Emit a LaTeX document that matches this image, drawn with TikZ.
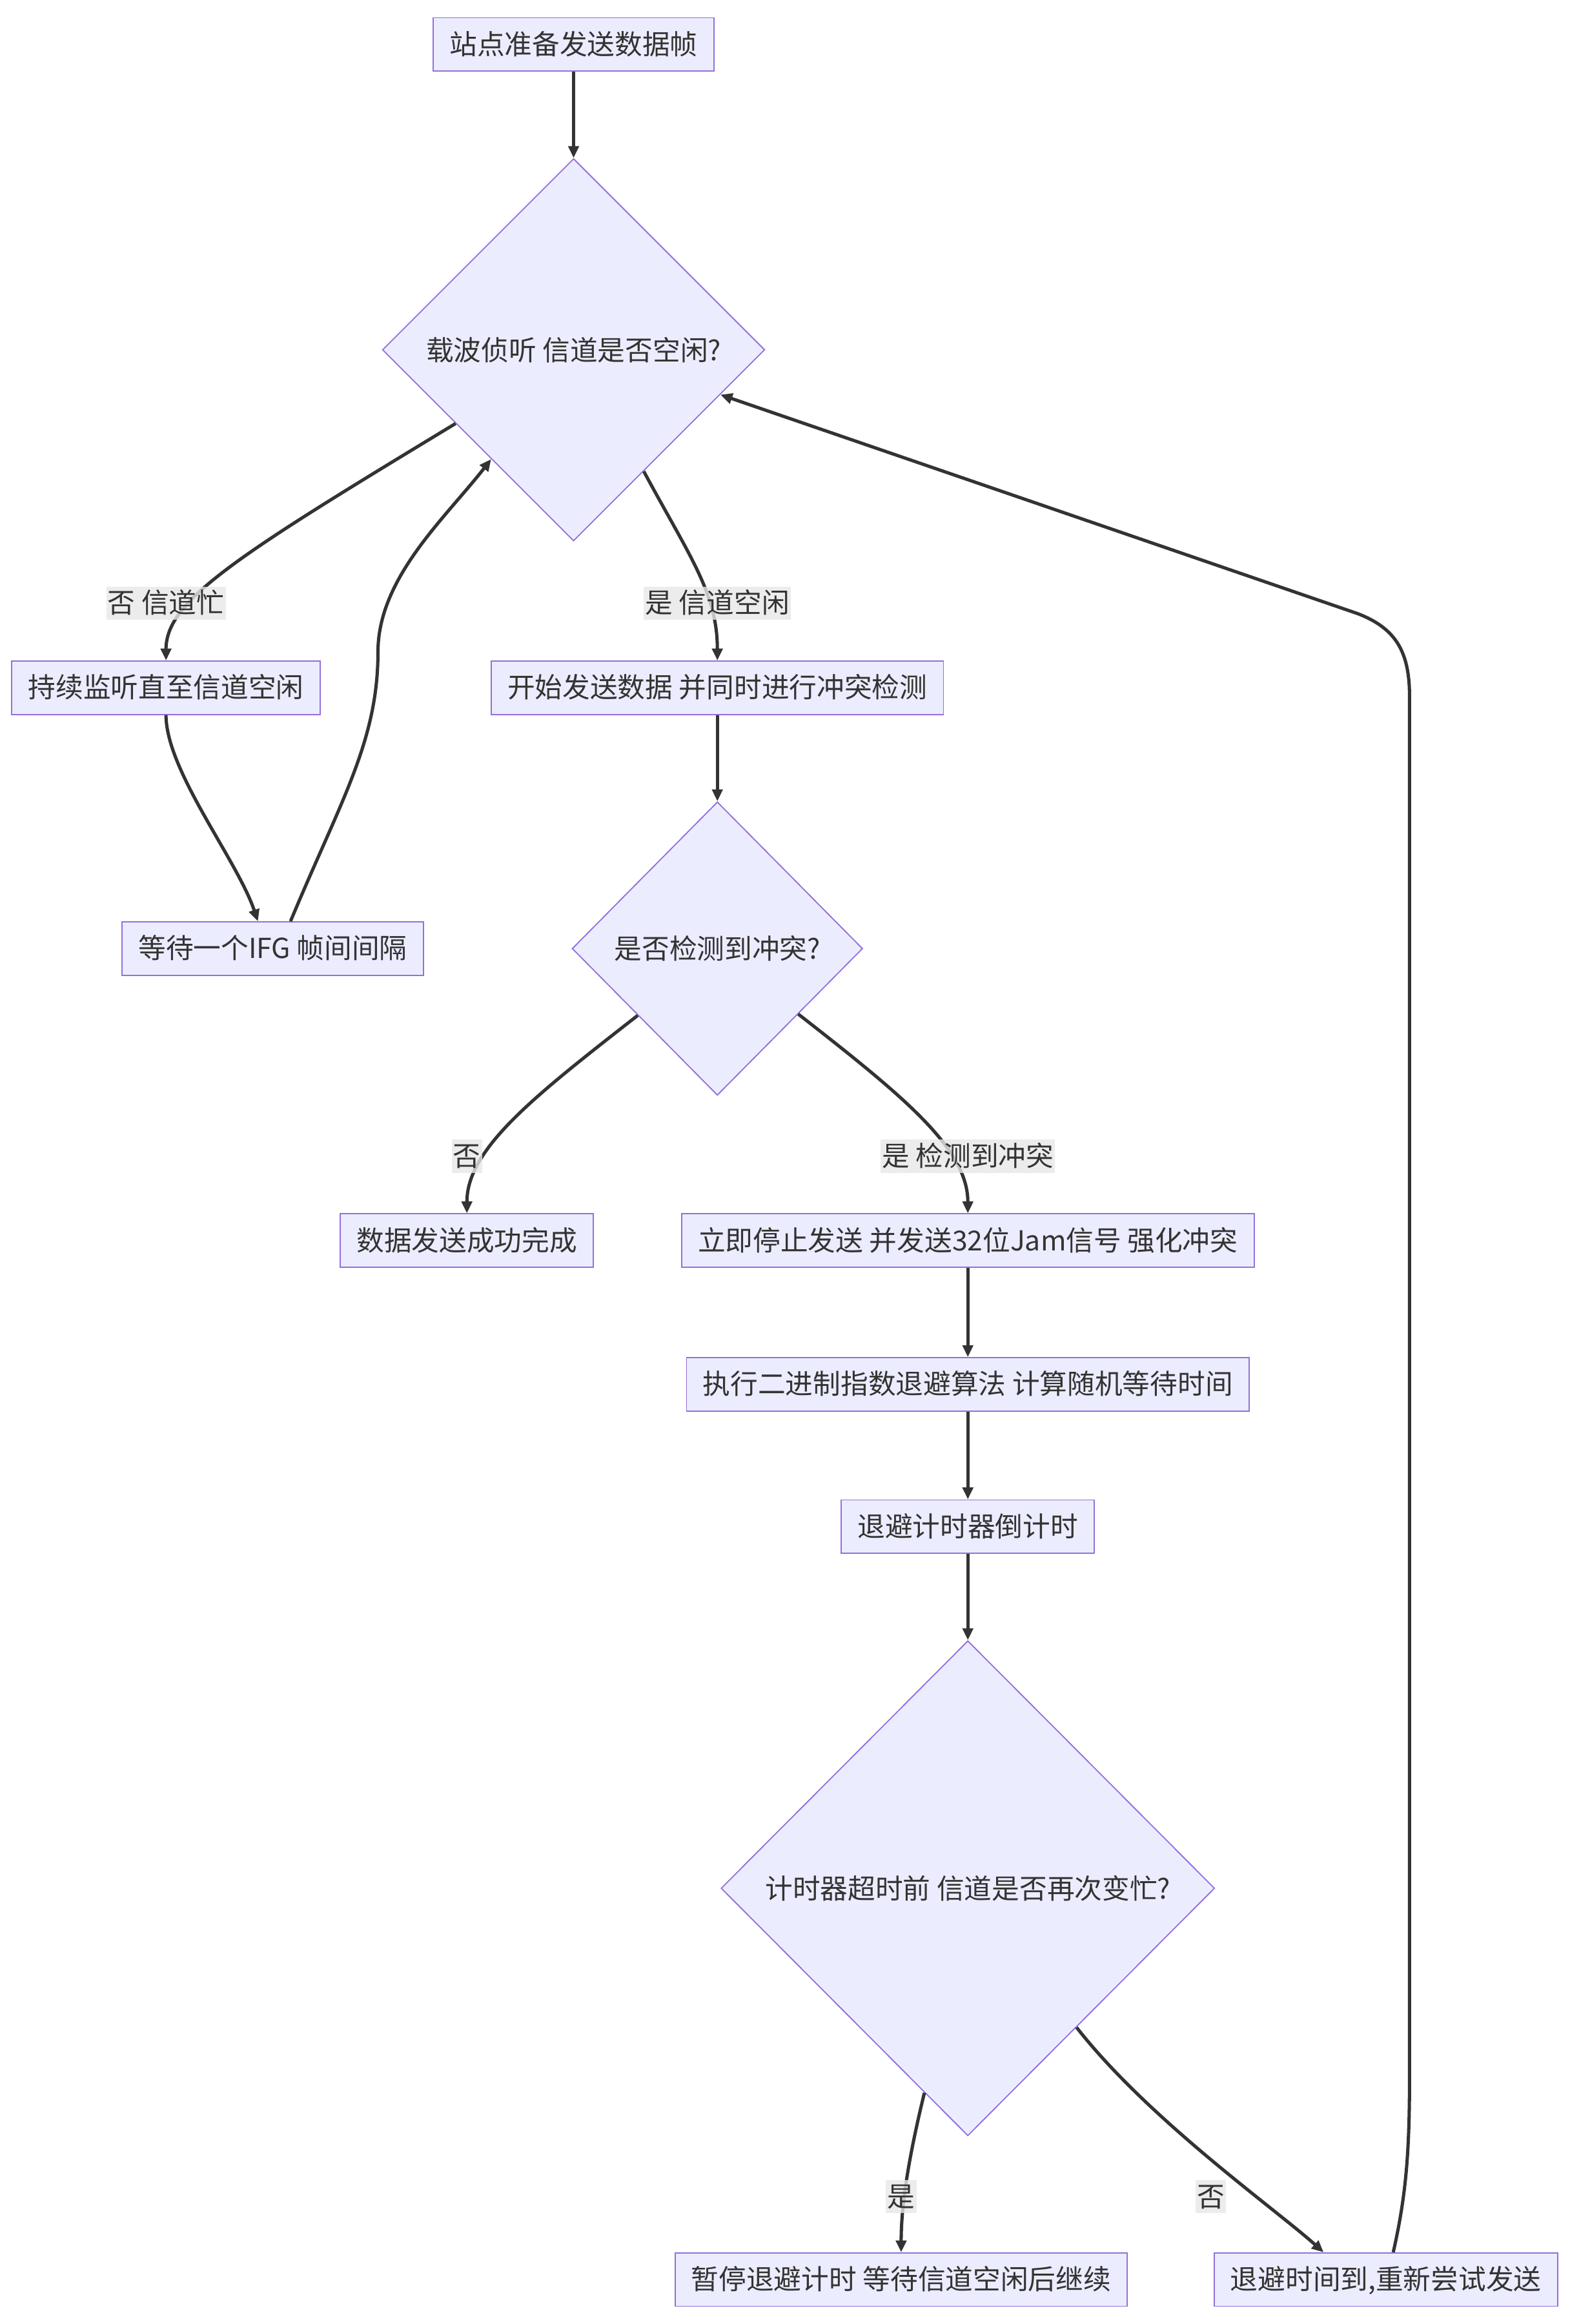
\documentclass[tikz,border=0pt]{standalone}
\usepackage{fontspec}
\setmainfont{Noto Sans CJK SC}
\usetikzlibrary{shapes.geometric,arrows.meta}
\definecolor{nodefill}{HTML}{ECECFF}
\definecolor{nodeline}{HTML}{9370DB}
\definecolor{edgeline}{HTML}{333333}
\definecolor{labelbg}{HTML}{E8E8E8}
\definecolor{textc}{HTML}{333333}
\begin{document}
\begin{tikzpicture}[x=1pt,y=-1pt,
  mfont/.style={font=\fontsize{18.6}{22}\selectfont},
  box/.style={draw=nodeline, fill=nodefill, line width=0.8pt, inner xsep=11pt, inner ysep=0pt,
    minimum height=36pt, text height=16pt, text depth=2.5pt, text=textc, mfont},
  dia/.style={shape=diamond, draw=nodeline, fill=nodefill, line width=0.8pt, inner sep=0pt,
    aspect=1, text=textc, mfont},
  edge/.style={draw=edgeline, line width=2.2pt, -{Triangle[length=8pt,width=7pt]}},
  elabel/.style={fill=labelbg, fill opacity=0.8, text opacity=1, inner xsep=1pt, inner ysep=2pt,
    text height=16pt, text depth=2.5pt, text=textc, mfont}]
\useasboundingbox (0,0) rectangle (1059,1568);
\fill[white] (0,0) rectangle (1059,1568);

\node[box] (A) at (387,30) {站点准备发送数据帧};
\node[dia, minimum width=258pt, minimum height=258pt] (B) at (387,236) {载波侦听 信道是否空闲?};
\node[box] (C) at (112,464) {持续监听直至信道空闲};
\node[box] (D) at (484,464) {开始发送数据 并同时进行冲突检测};
\node[box] (E) at (184,640) {等待一个IFG 帧间间隔};
\node[dia, minimum width=196pt, minimum height=198pt] (F) at (484,640) {是否检测到冲突?};
\node[box] (G) at (315,837) {数据发送成功完成};
\node[box] (H) at (653,837) {立即停止发送 并发送32位Jam信号 强化冲突};
\node[box] (I) at (653,934) {执行二进制指数退避算法 计算随机等待时间};
\node[box] (J) at (653,1030) {退避计时器倒计时};
\node[dia, minimum width=333pt, minimum height=334pt] (K) at (653,1274) {计时器超时前 信道是否再次变忙?};
\node[box] (L) at (608,1538) {暂停退避计时 等待信道空闲后继续};
\node[box] (M) at (935,1538) {退避时间到,重新尝试发送};

\draw[edge] (A) -- (B);
\draw[edge] (B.212) .. controls (160,375) and (112,405) .. (C.north);
\draw[edge] (B.300) .. controls (465,375) and (484,400) .. (D.north);
\draw[edge] (C.south) .. controls (112,520) and (160,580) .. ([xshift=-10pt]E.north);
\draw[edge] ([xshift=12pt]E.north) .. controls (230,540) and (255,500) .. (255,440)
  .. controls (255,390) and (300,350) .. (B.233);
\draw[edge] (D) -- (F);
\draw[edge] (F.220) .. controls (360,740) and (315,775) .. (G.north);
\draw[edge] (F.321) .. controls (610,740) and (653,775) .. (H.north);
\draw[edge] (H) -- (I);
\draw[edge] (I) -- (J);
\draw[edge] (J) -- (K);
\draw[edge] (K.258) .. controls (612,1460) and (608,1490) .. (L.north);
\draw[edge] (K.308) .. controls (775,1430) and (860,1490) .. ([xshift=-42pt]M.north);
\draw[edge] ([xshift=5pt]M.north) .. controls (949,1480) and (951,1450) .. (951,1400)
  -- (951,470) .. controls (951,440) and (942,424) .. (916,414) -- (B.343);

\node[elabel] (l1) at (112,407) {否 信道忙};
\node[elabel] (l2) at (484,407) {是 信道空闲};
\node[elabel] (l3) at (315,780) {否};
\node[elabel] (l4) at (653,780) {是 检测到冲突};
\node[elabel] (l5) at (608,1482) {是};
\node[elabel] (l6) at (817,1482) {否};
\end{tikzpicture}
\end{document}
